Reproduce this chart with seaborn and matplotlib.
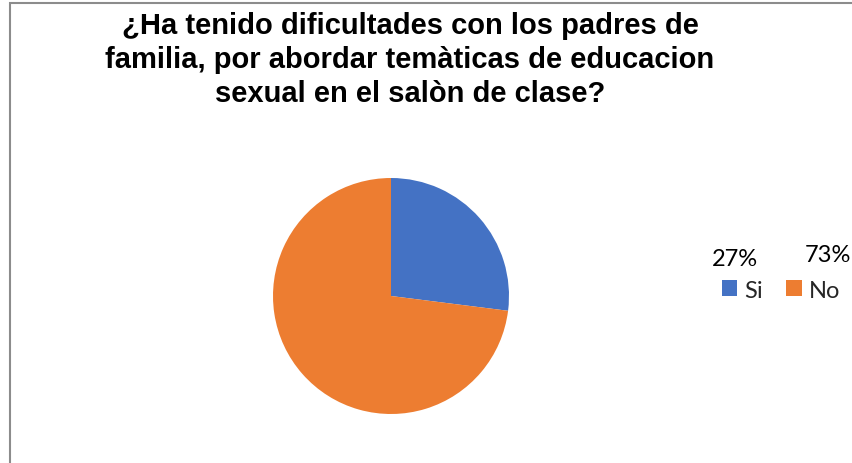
import matplotlib
matplotlib.use("Agg")
import matplotlib.pyplot as plt
import seaborn as sns
from matplotlib.patches import Rectangle, Patch

categories = ["Si", "No"]
values = [27, 73]
pct_labels = ["27%", "73%"]
title = ("¿Ha tenido dificultades con los padres de\n"
         "familia, por abordar temàticas de educacion\n"
         "sexual en el salòn de clase?")

sns.set_theme(style="white")
plt.rcParams['font.family'] = ['Liberation Sans', 'DejaVu Sans']
colors = ["#4472C4", "#ED7D31"]

W, H = 853, 464
fig = plt.figure(figsize=(W / 100, H / 100), dpi=100)
fig.patch.set_facecolor("white")

# outer border (chart area)
fig.patches.append(Rectangle((10 / W, -0.1), 1.2, 1 - 4 / H + 0.1,
                             transform=fig.transFigure, fill=False,
                             edgecolor="#8c8c8c", linewidth=1.5))

cx, cy, r = 391 / W, 1 - 297 / H, 118
ax = fig.add_axes([cx - r / W, cy - r / H, 2 * r / W, 2 * r / H])
ax.pie(values, colors=colors, startangle=90, counterclock=False,
       wedgeprops=dict(linewidth=0))
ax.set_xlim(-1, 1)
ax.set_ylim(-1, 1)
ax.axis("off")

fig.text(410 / W, 1 - 60 / H, title, ha="center", va="center",
         fontsize=21, fontweight="bold", linespacing=1.27, color="black")

lfam = ['Lato', 'DejaVu Sans']
# percentage labels above legend entries
fig.text(734.5 / W, 1 - 259 / H, pct_labels[0], ha="center", va="center",
         fontsize=17, family=lfam, color="black")
fig.text(827.5 / W, 1 - 256 / H, pct_labels[1], ha="center", va="center",
         fontsize=17, family=lfam, color="black")

handles = [Patch(facecolor=c, edgecolor="none") for c in colors]
leg = fig.legend(handles, categories, ncol=2, loc="center",
                 bbox_to_anchor=(781 / W, 1 - 291 / H), frameon=False,
                 handlelength=0.64, handleheight=0.64, handletextpad=0.3,
                 columnspacing=1.0, borderpad=0, borderaxespad=0,
                 prop={'family': lfam, 'size': 17})

fig.savefig("out.png", dpi=100, facecolor="white")
